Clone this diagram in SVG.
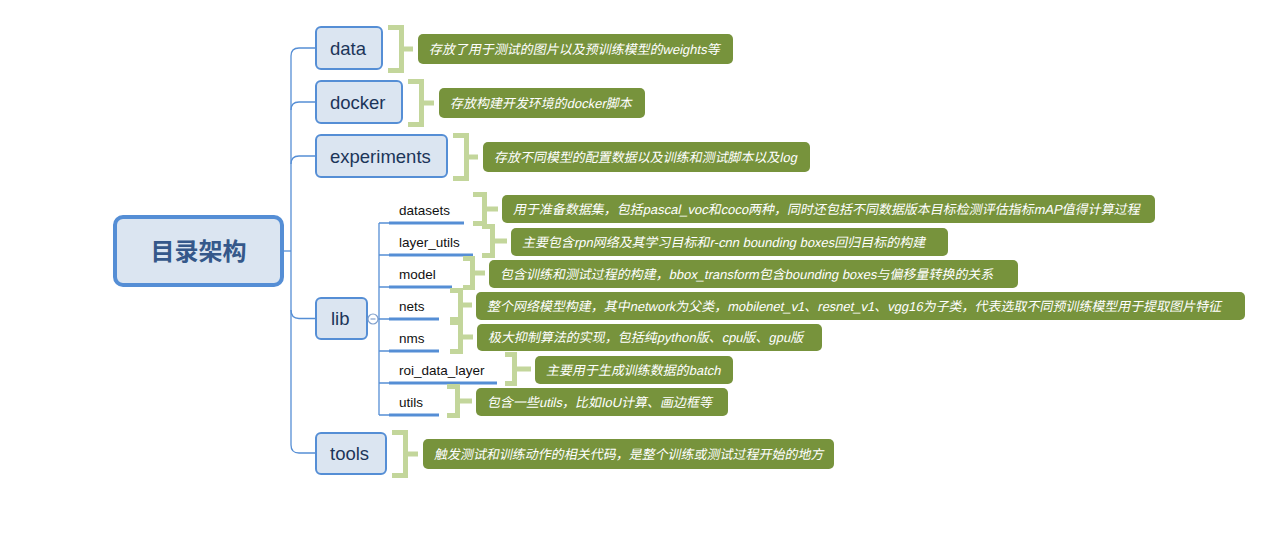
<svg xmlns="http://www.w3.org/2000/svg" width="1279" height="548" viewBox="0 0 1279 548">
<defs>
<style>
.conn{fill:none;stroke:#558ed5;stroke-width:1.3}
.main rect{fill:#dbe5f1;stroke:#558ed5;stroke-width:2}
.main text{font-family:"Liberation Sans","Noto Sans",sans-serif;font-size:18.5px;fill:#1c3559}
.child text{font-family:"Liberation Sans","Noto Sans",sans-serif;font-size:13.5px;fill:#111}
.ul{stroke:#558ed5;stroke-width:3}
.br{fill:none;stroke:#c3d69b;stroke-width:5}
.nb{fill:#77933c}
.nt{font-family:"Liberation Sans","Noto Sans CJK SC",sans-serif;font-size:13px;font-style:normal;fill:#fff}
</style>
</defs>
<rect width="1279" height="548" fill="#fff"/>
<g id="connectors">
<path class="conn" d="M283,251 H291"/>
<path class="conn" d="M291,56 V445"/>
<path class="conn" d="M316,48 H299 Q291,48 291,56"/>
<path class="conn" d="M316,102 H299 Q291,102 291,110"/>
<path class="conn" d="M316,156 H299 Q291,156 291,164"/>
<path class="conn" d="M291,310 Q291,318.5 299,318.5 H316"/>
<path class="conn" d="M291,445 Q291,453 299,453 H316"/>
<path class="conn" d="M367,319 H368 M378,319 H389"/>
<path class="conn" d="M379,223 V415"/>
<path class="conn" d="M379,223 H390 M379,255 H390 M379,287 H390 M379,351 H390 M379,383 H390 M379,415 H390"/>
</g>
<g id="root">
<rect x="115" y="217" width="167" height="68" rx="8" fill="#dbe5f1" stroke="#558ed5" stroke-width="4"/>
<text x="198.5" y="260" text-anchor="middle" font-family="'Noto Sans CJK SC',sans-serif" font-size="24" font-weight="bold" fill="#35588a">目录架构</text>
</g>
<g id="node-data" class="main">
<rect x="316" y="27" width="66" height="42" rx="5"/>
<text x="330" y="54.5">data</text>
</g>
<g id="node-docker" class="main">
<rect x="316" y="81" width="86" height="42" rx="5"/>
<text x="330" y="108.5">docker</text>
</g>
<g id="node-experiments" class="main">
<rect x="316" y="135" width="131" height="42" rx="5"/>
<text x="330" y="162.5">experiments</text>
</g>
<g id="node-lib" class="main">
<rect x="316" y="298" width="51" height="41" rx="5"/>
<text x="331" y="325">lib</text>
<circle cx="373" cy="319" r="5" fill="#fff" stroke="#7f9fcc" stroke-width="1.2"/>
<path d="M370.5,319 H375.5" stroke="#7f9fcc" stroke-width="1.2"/>
</g>
<g id="node-tools" class="main">
<rect x="316" y="433" width="70" height="41" rx="5"/>
<text x="330" y="459.5">tools</text>
</g>
<g id="node-datasets" class="child"><path class="ul" d="M389,223 H464"/><text x="399" y="215">datasets</text></g>
<g id="node-layer_utils" class="child"><path class="ul" d="M389,255 H473"/><text x="399" y="247">layer_utils</text></g>
<g id="node-model" class="child"><path class="ul" d="M389,287 H452"/><text x="399" y="279">model</text></g>
<g id="node-nets" class="child"><path class="ul" d="M389,319 H439"/><text x="399" y="311">nets</text></g>
<g id="node-nms" class="child"><path class="ul" d="M389,351 H439"/><text x="399" y="343">nms</text></g>
<g id="node-roi_data_layer" class="child"><path class="ul" d="M389,383 H497"/><text x="399" y="375">roi_data_layer</text></g>
<g id="node-utils" class="child"><path class="ul" d="M389,415 H439"/><text x="399" y="407">utils</text></g>
<g id="note-data"><path class="br" d="M388,27.5 H401.5 V70.5 H388 M401.5,49 H413"/><rect class="nb" x="418" y="34" width="315" height="30" rx="5"/><text class="nt" transform="translate(429,53.5) skewX(-12)">存放了用于测试的图片以及预训练模型的weights等</text></g>
<g id="note-docker"><path class="br" d="M408,81.5 H421.5 V124.5 H408 M421.5,103 H434"/><rect class="nb" x="439" y="88" width="206" height="30" rx="5"/><text class="nt" transform="translate(450,107.5) skewX(-12)">存放构建开发环境的docker脚本</text></g>
<g id="note-experiments"><path class="br" d="M453,135.5 H466.5 V178.5 H453 M466.5,157 H478"/><rect class="nb" x="483" y="142" width="327" height="30" rx="5"/><text class="nt" transform="translate(494,161.5) skewX(-12)">存放不同模型的配置数据以及训练和测试脚本以及log</text></g>
<g id="note-tools"><path class="br" d="M392,432.5 H405.5 V475.5 H392 M405.5,454 H418"/><rect class="nb" x="423" y="439" width="411" height="30" rx="5"/><text class="nt" transform="translate(434,458.5) skewX(-12)">触发测试和训练动作的相关代码，是整个训练或测试过程开始的地方</text></g>
<g id="note-datasets"><path class="br" d="M473,194.5 H484.5 V223.5 H473 M484.5,209 H498"/><rect class="nb" x="502" y="195" width="653" height="28" rx="5"/><text class="nt" transform="translate(513,213.5) skewX(-12)">用于准备数据集，包括pascal_voc和coco两种，同时还包括不同数据版本目标检测评估指标mAP值得计算过程</text></g>
<g id="note-layer_utils"><path class="br" d="M482,226.5 H492.5 V255.5 H482 M492.5,241 H507"/><rect class="nb" x="511" y="228" width="437" height="28" rx="5"/><text class="nt" transform="translate(522,246.5) skewX(-12)">主要包含rpn网络及其学习目标和r-cnn bounding boxes回归目标的构建</text></g>
<g id="note-model"><path class="br" d="M463,258.5 H472.5 V287.5 H463 M472.5,273 H485"/><rect class="nb" x="489" y="260" width="529" height="28" rx="5"/><text class="nt" transform="translate(500,278.5) skewX(-12)">包含训练和测试过程的构建，bbox_transform包含bounding boxes与偏移量转换的关系</text></g>
<g id="note-nets"><path class="br" d="M450,290.5 H460.5 V319.5 H450 M460.5,305 H472"/><rect class="nb" x="476" y="292" width="769" height="28" rx="5"/><text class="nt" transform="translate(487,310.5) skewX(-12)">整个网络模型构建，其中network为父类，mobilenet_v1、resnet_v1、vgg16为子类，代表选取不同预训练模型用于提取图片特征</text></g>
<g id="note-nms"><path class="br" d="M450,322.5 H460.5 V351.5 H450 M460.5,337 H473"/><rect class="nb" x="477" y="324" width="345" height="27" rx="5"/><text class="nt" transform="translate(488,342) skewX(-12)">极大抑制算法的实现，包括纯python版、cpu版、gpu版</text></g>
<g id="note-roi_data_layer"><path class="br" d="M505,354.5 H514.5 V383.5 H505 M514.5,369 H531"/><rect class="nb" x="535" y="356" width="198" height="28" rx="5"/><text class="nt" transform="translate(546,374.5) skewX(-12)">主要用于生成训练数据的batch</text></g>
<g id="note-utils"><path class="br" d="M447,386.5 H457.5 V415.5 H447 M457.5,401 H472"/><rect class="nb" x="476" y="388" width="252" height="28" rx="5"/><text class="nt" transform="translate(487,406.5) skewX(-12)">包含一些utils，比如IoU计算、画边框等</text></g>
</svg>
